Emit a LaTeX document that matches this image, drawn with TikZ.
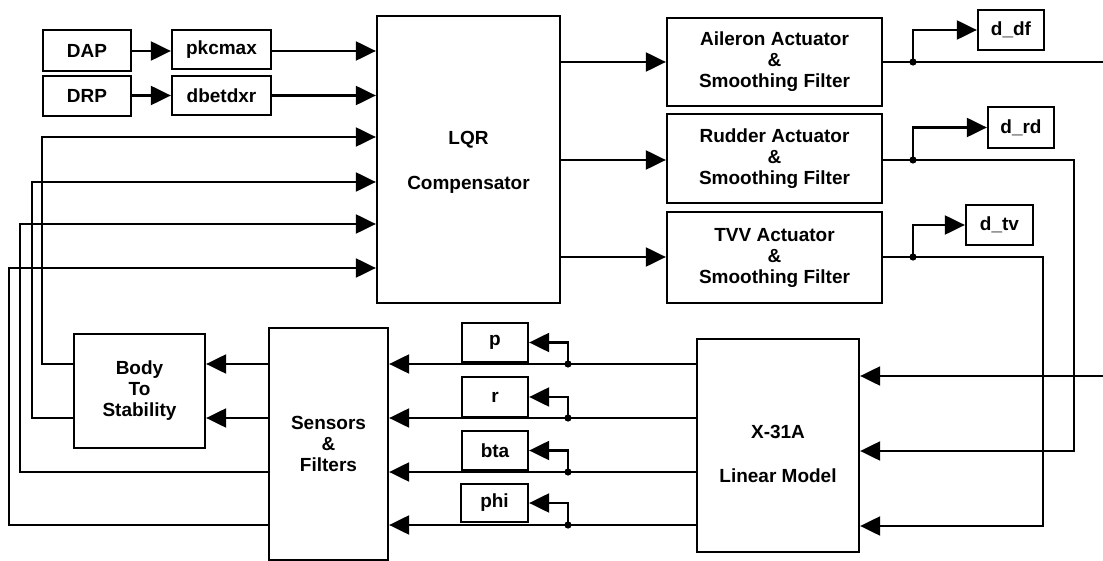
\documentclass[tikz,border=0pt]{standalone}
\usepackage{fontspec}
\setmainfont{Liberation Sans}
\usetikzlibrary{arrows.meta}

\begin{document}
\begin{tikzpicture}[x=1pt,y=-1pt,
  blk/.style={draw,line width=2.3pt,inner sep=0pt,align=center,font=\bfseries\fontsize{19}{21}\selectfont},
  sig/.style={line width=2.2pt,-{Triangle[length=20pt,width=19pt]}},
  wire/.style={line width=2.2pt}]
\useasboundingbox (0,0) rectangle (1103,561);
% blocks
\node[blk,minimum width=88pt,minimum height=41pt] (DAP) at (87,50.5) {DAP};
\node[blk,minimum width=88pt,minimum height=40pt] (DRP) at (87,96) {DRP};
\node[blk,minimum width=99pt,minimum height=39pt] (pkc) at (221.5,49.5) {pkcmax};
\node[blk,minimum width=99pt,minimum height=39pt] (dbet) at (221.5,95.5) {dbetdxr};
\node[blk,minimum width=183pt,minimum height=287pt] (LQR) at (468.5,159.5) {\rule{0pt}{18pt}LQR\\[24pt]Compensator};
\node[blk,minimum width=215pt,minimum height=88pt] (Ail) at (774.5,62) {Aileron Actuator\\\&\\Smoothing Filter};
\node[blk,minimum width=215pt,minimum height=89pt] (Rud) at (774.5,158.5) {Rudder Actuator\\\&\\Smoothing Filter};
\node[blk,minimum width=215pt,minimum height=91pt] (TVV) at (774.5,257.5) {TVV Actuator\\\&\\Smoothing Filter};
\node[blk,minimum width=66pt,minimum height=40pt] (ddf) at (1011,30) {d\_df};
\node[blk,minimum width=66pt,minimum height=41pt] (drd) at (1021,127.5) {d\_rd};
\node[blk,minimum width=67pt,minimum height=40pt] (dtv) at (999.5,225) {d\_tv};
\node[blk,minimum width=131pt,minimum height=114pt] (Body) at (139.5,391) {Body\\To\\Stability};
\node[blk,minimum width=119pt,minimum height=232pt] (Sens) at (328.5,444) {Sensors\\\&\\Filters};
\node[blk,minimum width=66pt,minimum height=39pt] (p) at (495,342.5) {p};
\node[blk,minimum width=66pt,minimum height=40pt] (r) at (495,397) {r};
\node[blk,minimum width=66pt,minimum height=39pt] (bta) at (495,450.5) {bta};
\node[blk,minimum width=67pt,minimum height=38pt] (phi) at (494.5,503) {phi};
\node[blk,minimum width=162pt,minimum height=213pt] (X31) at (778,445.5) {\rule{0pt}{30pt}X-31A\\[23pt]Linear Model};

% junctions and corners
\coordinate (rA) at (0,51);
\coordinate (rD) at (0,95.5);
\coordinate (ja) at (913,62);
\coordinate (jr) at (913,160);
\coordinate (jt) at (913,257);
\coordinate (kr) at (1074,451);
\coordinate (kt) at (1043,526);
\coordinate (eA) at (1103,62);
\coordinate (eX) at (1103,376);
\coordinate (jp) at (568,364);
\coordinate (jq) at (568,418);
\coordinate (jb) at (568,472);
\coordinate (jf) at (568,525);
\coordinate (f1) at (42,137);
\coordinate (f2) at (32,182);
\coordinate (f3) at (20,224);
\coordinate (f4) at (9,268);

% command inputs
\draw[sig] (DAP.east |- rA) -- (pkc.west |- rA);
\draw[sig] (DRP.east |- rD) -- (dbet.west |- rD);
\draw[sig] (pkc.east |- rA) -- (LQR.west |- rA);
\draw[sig] (dbet.east |- rD) -- (LQR.west |- rD);

% compensator to actuators
\draw[sig] (LQR.east |- ja) -- (Ail.west |- ja);
\draw[sig] (LQR.east |- jr) -- (Rud.west |- jr);
\draw[sig] (LQR.east |- jt) -- (TVV.west |- jt);

% actuators to plant
\draw[wire] (Ail.east |- ja) -- (eA);
\draw[sig] (eX) -- (X31.east |- eX);
\draw[sig] (Rud.east |- jr) -| (kr) -- (X31.east |- kr);
\draw[sig] (TVV.east |- jt) -| (kt) -- (X31.east |- kt);
\draw[sig] (ja) |- (ddf.west);
\draw[sig] (jr) |- (drd.west);
\draw[sig] (jt) |- (dtv.west);
\fill (ja) circle (3.6pt) (jr) circle (3.6pt) (jt) circle (3.6pt);

% plant outputs
\draw[sig] (X31.west |- jp) -- (Sens.east |- jp);
\draw[sig] (X31.west |- jq) -- (Sens.east |- jq);
\draw[sig] (X31.west |- jb) -- (Sens.east |- jb);
\draw[sig] (X31.west |- jf) -- (Sens.east |- jf);
\draw[sig] (jp) |- (p.east);
\draw[sig] (jq) |- (r.east);
\draw[sig] (jb) |- (bta.east);
\draw[sig] (jf) |- (phi.east);
\fill (jp) circle (3.6pt) (jq) circle (3.6pt) (jb) circle (3.6pt) (jf) circle (3.6pt);

% feedback
\draw[sig] (Sens.west |- jp) -- (Body.east |- jp);
\draw[sig] (Sens.west |- jq) -- (Body.east |- jq);
\draw[sig] (Body.west |- jp) -| (f1) -- (LQR.west |- f1);
\draw[sig] (Body.west |- jq) -| (f2) -- (LQR.west |- f2);
\draw[sig] (Sens.west |- jb) -| (f3) -- (LQR.west |- f3);
\draw[sig] (Sens.west |- jf) -| (f4) -- (LQR.west |- f4);
\end{tikzpicture}
\end{document}
